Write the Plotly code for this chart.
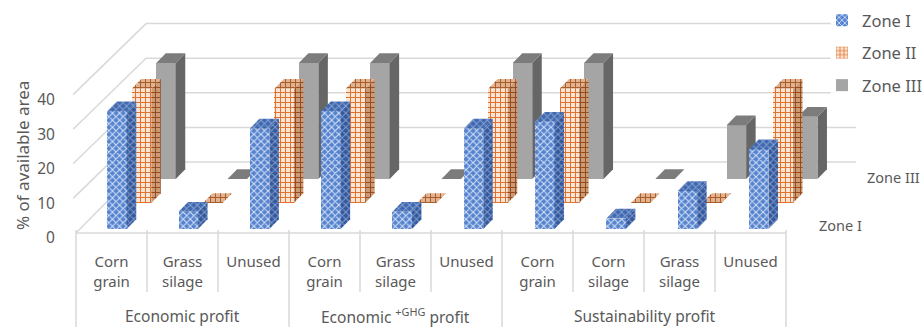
import plotly.graph_objects as go

# Chart values (% of available area)
categories = ["Corn<br>grain", "Grass<br>silage", "Unused",
              "Corn<br>grain", "Grass<br>silage", "Unused",
              "Corn<br>grain", "Corn<br>silage", "Grass<br>silage", "Unused"]
groups = ["Economic profit", "Economic <sup>+GHG</sup> profit", "Sustainability profit"]
group_spans = [(0, 3), (3, 6), (6, 10)]
y_ticks = [0, 10, 20, 30, 40]
zone_i = [34, 5, 29, 34, 5, 29, 31, 3, 11, 23]
zone_ii = [33, 0, 33, 33, 0, 33, 33, 0, 0, 33]
zone_iii = [33.5, 0, 33.5, 33.5, 0, 33.5, 33.5, 0, 15.5, 18]

# Scale of the oblique projection: pixels per category and per percentage point
W, H = 922, 327
PX_X = 71.0
PX_Y = 3.46
LEFT, BASE = 63, 233
ORIGIN_X = 76
x_range = [(LEFT - ORIGIN_X) / PX_X, (W - ORIGIN_X) / PX_X]
y_range = [0, BASE / PX_Y]

BAR_STEP = 71.3 / PX_X
BAR_W = 19.5 / PX_X
DEPTH_X = 9.5 / PX_X
DEPTH_Y = 9.8 / PX_Y
WALL_X = 70 / PX_X
WALL_Y = 71 / PX_Y

zones = [
    dict(name="Zone I", values=zone_i, axis=4, dx=5.5 / PX_X, dy=4.0 / PX_Y,
         front="#5583cf", front_fg="#d5e1f5", side="#34589a", side_fg="#7f9bd0",
         top="#3f68ae", top_fg="#86a1d4", shape="x", size=5, sol=0.38),
    dict(name="Zone II", values=zone_ii, axis=3, dx=30.0 / PX_X, dy=30.0 / PX_Y,
         front="#fbe6d6", front_fg="#e06f2c", side="#cf9a72", side_fg="#8f4a22",
         top="#e2b28e", top_fg="#a85a2a", shape="+", size=5, sol=0.35),
    dict(name="Zone III", values=zone_iii, axis=2, dx=54.5 / PX_X, dy=54.0 / PX_Y,
         front="#a5a5a5", front_fg=None, side="#666666", side_fg=None,
         top="#7c7c7c", top_fg=None, shape="", size=5, sol=0.3),
]

fig = go.Figure()


def pattern(z, fg, bg):
    if fg is None:
        return dict(shape="")
    return dict(shape=z["shape"], size=z["size"], solidity=z["sol"], fgcolor=fg,
                bgcolor=bg, fillmode="replace")


for z in zones:
    ax = z["axis"]
    xs = [i * BAR_STEP + 0.5 + z["dx"] for i in range(len(categories))]
    fig.add_trace(go.Bar(
        x=xs, y=z["values"], base=z["dy"], width=BAR_W, name=z["name"],
        legendgroup=z["name"], xaxis=f"x{ax}", yaxis=f"y{ax}",
        marker=dict(color=z["front"], line_width=0,
                    pattern=pattern(z, z["front_fg"], z["front"])),
    ))
    for xc, v in zip(xs, z["values"]):
        xl, xr = xc - BAR_W / 2, xc + BAR_W / 2
        bottom, topv = z["dy"], z["dy"] + v
        if v > 0:
            fig.add_trace(go.Scatter(
                x=[xr, xr + DEPTH_X, xr + DEPTH_X, xr, xr],
                y=[bottom, bottom + DEPTH_Y, topv + DEPTH_Y, topv, bottom],
                mode="lines", line_width=0, fill="toself", fillcolor=z["side"],
                fillpattern=pattern(z, z["side_fg"], z["side"]),
                hoverinfo="skip", showlegend=False, xaxis=f"x{ax}", yaxis=f"y{ax}",
            ))
        fig.add_trace(go.Scatter(
            x=[xl, xr, xr + DEPTH_X, xl + DEPTH_X, xl],
            y=[topv, topv, topv + DEPTH_Y, topv + DEPTH_Y, topv],
            mode="lines", line_width=0, fill="toself", fillcolor=z["top"],
            fillpattern=pattern(z, z["top_fg"], z["top"]),
            hoverinfo="skip", showlegend=False, xaxis=f"x{ax}", yaxis=f"y{ax}",
        ))

# Wall and floor lines of the chart box
GRID = "#d9d9d9"
shapes = []
n = len(categories)
for t in y_ticks:
    shapes.append(dict(type="line", xref="x", yref="y", layer="below",
                       x0=-0.04 if t else 0, y0=t, x1=WALL_X, y1=t + WALL_Y,
                       line=dict(color=GRID, width=1.5)))
    x_end = n + WALL_X if t < 20 else n + 0.63
    shapes.append(dict(type="line", xref="x", yref="y", layer="below",
                       x0=WALL_X, y0=t + WALL_Y, x1=x_end, y1=t + WALL_Y,
                       line=dict(color=GRID, width=1.5)))
shapes.append(dict(type="line", xref="x", yref="paper", layer="below",
                   x0=0, y0=0, x1=n, y1=0, line=dict(color=GRID, width=1.5)))

# Category and group separators under the axis
spans = {a for a, _ in group_spans} | {b for _, b in group_spans}
for i in range(n + 1):
    low = -(327 - BASE) / BASE if i in spans else -(292 - BASE) / BASE
    shapes.append(dict(type="line", xref="x", yref="paper", layer="below",
                       x0=i, x1=i, y0=low, y1=3 / BASE,
                       line=dict(color=GRID, width=1.5)))

TEXT = "#595959"
FONT = "Noto Sans"


def label(text, x, y_px, size, **kw):
    return dict(text=text, xref="x", yref="paper", x=x, y=(BASE - y_px) / BASE,
                xanchor="center", yanchor="middle", showarrow=False,
                font=dict(family=FONT, size=size, color=TEXT), **kw)


annotations = [
    dict(text="% of available area", xref="paper", yref="paper",
         x=(22 - LEFT) / (W - LEFT), y=(BASE - 156) / BASE, xanchor="center",
         yanchor="middle", textangle=-90, showarrow=False,
         font=dict(family=FONT, size=17, color=TEXT)),
    label("Zone I", (840 - ORIGIN_X) / PX_X, 225, 14.5),
    label("Zone III", (893 - ORIGIN_X) / PX_X, 177, 14.5),
]
for name, (a, b) in zip(groups, group_spans):
    annotations.append(label(name, (a + b) / 2, 316, 15.5))

layout_axes = {}
for k in (2, 3, 4):
    layout_axes[f"xaxis{k}"] = dict(overlaying="x", range=x_range, visible=False, fixedrange=True)
    layout_axes[f"yaxis{k}"] = dict(overlaying="y", range=y_range, visible=False, fixedrange=True)

fig.update_layout(
    width=W, height=H, autosize=False,
    margin=dict(l=LEFT, r=0, t=0, b=H - BASE, autoexpand=False),
    paper_bgcolor="white", plot_bgcolor="rgba(0,0,0,0)",
    barmode="overlay", bargap=0,
    font=dict(family=FONT, color=TEXT),
    xaxis=dict(range=x_range, tickvals=[i + 0.5 for i in range(n)], ticktext=categories,
               showgrid=False, zeroline=False, showline=False, ticks="outside", ticklen=15,
               tickcolor="rgba(0,0,0,0)", tickangle=0, tickfont=dict(family=FONT, size=15, color=TEXT)),
    yaxis=dict(range=y_range, tickvals=y_ticks, showgrid=False, zeroline=False, showline=False,
               ticks="outside", ticklen=4, tickcolor="rgba(0,0,0,0)", ticklabelshift=5,
               tickfont=dict(family=FONT, size=15.5, color=TEXT)),
    legend=dict(x=(822 - LEFT) / (W - LEFT), y=1 - 3 / BASE, xanchor="left", yanchor="top",
                font=dict(family=FONT, size=16.5, color=TEXT), tracegroupgap=8,
                bgcolor="rgba(0,0,0,0)", itemclick=False, itemdoubleclick=False),
    shapes=shapes, annotations=annotations,
    showlegend=True,
    **layout_axes,
)

fig.write_html("out.html", config=dict(displayModeBar=False))
